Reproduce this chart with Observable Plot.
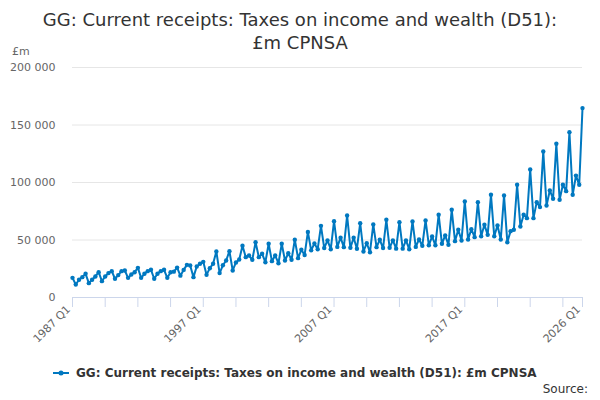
<!DOCTYPE html>
<html><head><meta charset="utf-8">
<script src="https://cdn.jsdelivr.net/npm/d3@7"></script>
<script src="https://cdn.jsdelivr.net/npm/@observablehq/plot@0.6"></script>
<style>
body{margin:0;background:#fff;font-family:"DejaVu Sans",sans-serif;}
#wrap{position:relative;width:600px;height:400px;overflow:hidden;background:#fff;}
#title{position:absolute;top:8px;left:0;width:600px;text-align:center;font-size:18px;line-height:23px;color:#333;}
#unit{position:absolute;left:12px;top:45px;font-size:11px;color:#666;z-index:2;}
#chart{position:absolute;top:50px;left:0;z-index:1;}
#legend{position:absolute;top:366px;left:52px;font-size:12px;font-weight:bold;color:#333;display:flex;align-items:center;z-index:2;}
#source{position:absolute;right:12px;top:382px;font-size:12px;color:#333;z-index:2;}
</style></head><body>
<div id="wrap">
  <div id="title">GG: Current receipts: Taxes on income and wealth (D51):<br>£m CPNSA</div>
  <div id="chart"></div>
  <div id="unit">£m</div>
  <div id="legend"><svg width="20" height="12" style="margin-right:4px"><line x1="1" x2="17" y1="6" y2="6" stroke="#0078c0" stroke-width="2"/><circle cx="9" cy="6" r="2.5" fill="#0078c0"/></svg>GG: Current receipts: Taxes on income and wealth (D51): £m CPNSA</div>
  <div id="source">Source:</div>
</div>
<script>
const seriesName = "GG: Current receipts: Taxes on income and wealth (D51): £m CPNSA";
const startYear = 1987;
const values = [
  17100, 11300, 15400, 17700,   // 1987
  20600, 12500, 15400, 18300,   // 1988
  22000, 14200, 18300, 21200,   // 1989
  22900, 16300, 19500, 22900,   // 1990
  23500, 17100, 20000, 22000,   // 1991
  25800, 17100, 20600, 22900,   // 1992
  24100, 16300, 20600, 22900,   // 1993
  24100, 17100, 22000, 22500,   // 1994
  26000, 19000, 24000, 28400,   // 1995
  27800, 17700, 27000, 29300,   // 1996
  31000, 19700, 25500, 29300,   // 1997
  40000, 21200, 28000, 32200,   // 1998
  40300, 23500, 30500, 33000,   // 1999
  45000, 35100, 36500, 32800,   // 2000
  48100, 35100, 38000, 30700,   // 2001
  46700, 31600, 36500, 29800,   // 2002
  46700, 32200, 38500, 32800,   // 2003
  50200, 34200, 41500, 37000,   // 2004
  57000, 41000, 47000, 42000,   // 2005
  62300, 43000, 49600, 42000,   // 2006
  66400, 44000, 52000, 43800,   // 2007
  71300, 43200, 52000, 42400,   // 2008
  64600, 40000, 47200, 39400,   // 2009
  63500, 43800, 50200, 43000,   // 2010
  67600, 43200, 49600, 42500,   // 2011
  65500, 42500, 49600, 42000,   // 2012
  66100, 44000, 50500, 45000,   // 2013
  67000, 45500, 53000, 45500,   // 2014
  72000, 46700, 54000, 45800,   // 2015
  76300, 49000, 58900, 49600,   // 2016
  83500, 50500, 59400, 52500,   // 2017
  82900, 53300, 63200, 54500,   // 2018
  89300, 53300, 62600, 50500,   // 2019
  88700, 48100, 57700, 58900,   // 2020
  98000, 61800, 71900, 69000,   // 2021
  111400, 69000, 82900, 78600,  // 2022
  127000, 80000, 93100, 85900,  // 2023
  133700, 85000, 98000, 92500,  // 2024
  143800, 89300, 106000, 98000, // 2025
  164700                        // 2026
];
const quarters = values.map((_, i) => `${startYear + Math.floor(i / 4)} Q${(i % 4) + 1}`);
const tickQuarters = ["1987 Q1","1989 Q3","1992 Q1","1994 Q3","1997 Q1","1999 Q3","2002 Q1","2004 Q3","2007 Q1","2009 Q3","2012 Q1","2014 Q3","2017 Q1","2019 Q3","2022 Q1","2024 Q3","2026 Q1"];
const labelQuarters = ["1987 Q1","1997 Q1","2007 Q1","2017 Q1","2026 Q1"];
const yTicks = [0, 50000, 100000, 150000, 200000];

const data = quarters.map((q, i) => ({q, v: values[i]}));
const blue = "#0078c0";
const fmt = d => d3.format(",")(d).replace(/,/g, " ");

const chart = Plot.plot({
  width: 600,
  height: 310,
  marginLeft: 72,
  marginRight: 18,
  marginTop: 17,
  marginBottom: 63,
  style: {fontFamily: "DejaVu Sans, sans-serif", fontSize: "11px", background: "transparent", overflow: "visible"},
  x: {type: "point", domain: quarters, padding: 0, axis: null},
  y: {domain: [0, 200000], axis: null},
  marks: [
    Plot.gridY(yTicks, {stroke: "#e6e6e6", strokeOpacity: 1}),
    Plot.axisY(yTicks, {tickSize: 0, tickPadding: 17, tickFormat: fmt, fill: "#666", fontSize: 11, label: null}),
    Plot.ruleY([0], {stroke: "#ccd6eb"}),
    Plot.axisX(tickQuarters, {tickSize: 10, stroke: "#ccd6eb", strokeOpacity: 1, tickFormat: () => "", label: null}),
    Plot.axisX(labelQuarters, {tickSize: 0, tickRotate: -45, tickPadding: 10, dx: -4, fill: "#666", fontSize: 11, label: null}),
    Plot.line(data, {x: "q", y: "v", stroke: blue, strokeWidth: 2}),
    Plot.dot(data, {x: "q", y: "v", r: 2.2, fill: blue})
  ]
});
document.getElementById("chart").appendChild(chart);
</script>
</body></html>
